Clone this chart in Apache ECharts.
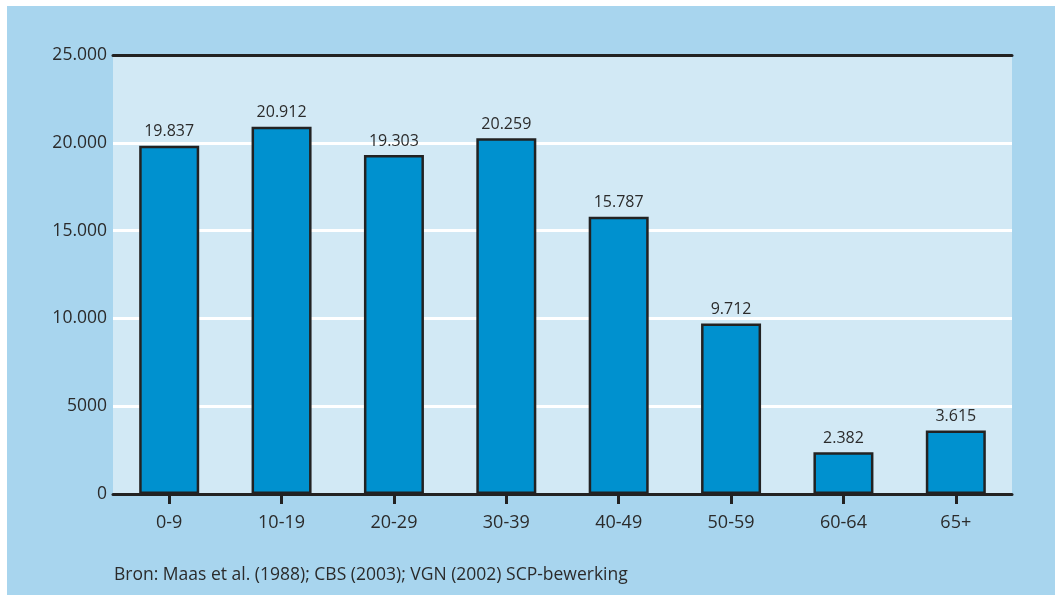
<!DOCTYPE html>
<html>
<head>
<meta charset="utf-8">
<script src="https://cdn.jsdelivr.net/npm/echarts@6/dist/echarts.min.js"></script>
<style>
    html, body { margin: 0; padding: 0; background: #ffffff; }
    #wrap { position: absolute; left: 7px; top: 6px; width: 1048px; height: 589px; background: #a8d5ee; }
    #barChart { position: absolute; left: 0; top: 0; width: 1055px; height: 595px; }
</style>
</head>
<body>
<div id="wrap"></div>
<div id="barChart"></div>
<script>
// leeftijdsgroepen en aantallen
var categories = ['0-9', '10-19', '20-29', '30-39', '40-49', '50-59', '60-64', '65+'];
var values = [19837, 20912, 19303, 20259, 15787, 9712, 2382, 3615];
var yTicks = [0, 5000, 10000, 15000, 20000, 25000];
var yTickLabels = ['0', '5000', '10.000', '15.000', '20.000', '25.000'];
var sourceText = 'Bron: Maas et al. (1988); CBS (2003); VGN (2002) SCP-bewerking';

var chart, option;

function formatNl(v) {
    var s = String(v);
    if (s.length > 3) {
        s = s.slice(0, s.length - 3) + '.' + s.slice(s.length - 3);
    }
    return s;
}

function initChart() {
    chart = echarts.init(document.getElementById('barChart'));
    var fontFamily = '"Open Sans", sans-serif';
    option = {
        animation: false,
        backgroundColor: 'transparent',
        textStyle: { fontFamily: fontFamily },
        grid: {
            left: 113,
            right: 43,
            top: 55,
            bottom: 101,
            show: true,
            backgroundColor: '#d2e9f5',
            borderWidth: 0
        },
        graphic: [{
            type: 'text',
            left: 114,
            top: 566,
            style: {
                text: sourceText,
                font: '17.5px ' + fontFamily,
                fill: '#2b2b2b'
            }
        }],
        xAxis: [{
            type: 'category',
            data: categories,
            position: 'bottom',
            z: 5,
            axisLine: { show: true, lineStyle: { color: '#222222', width: 3 } },
            axisTick: {
                show: true,
                inside: false,
                interval: 0,
                alignWithLabel: true,
                length: 10,
                lineStyle: { color: '#222222', width: 3 }
            },
            axisLabel: {
                color: '#2b2b2b',
                fontSize: 18,
                margin: 20
            },
            splitLine: { show: false }
        }, {
            type: 'category',
            data: categories,
            position: 'top',
            axisLine: { show: true, lineStyle: { color: '#222222', width: 3 } },
            axisTick: { show: false },
            axisLabel: { show: false }
        }],
        yAxis: {
            type: 'value',
            min: 0,
            max: 25000,
            interval: 5000,
            axisLine: { show: false },
            axisTick: { show: false },
            axisLabel: {
                color: '#2b2b2b',
                fontSize: 17.5,
                margin: 6,
                formatter: function (v) {
                    var i = yTicks.indexOf(v);
                    return i >= 0 ? yTickLabels[i] : '';
                }
            },
            splitLine: { lineStyle: { color: '#ffffff', width: 3 } }
        },
        series: [{
            type: 'bar',
            data: values,
            barWidth: 60,
            itemStyle: {
                color: '#0091cf',
                borderColor: '#222222',
                borderWidth: 2.5
            },
            label: {
                show: true,
                position: 'top',
                distance: 6,
                color: '#2b2b2b',
                fontSize: 16,
                formatter: function (p) {
                    return formatNl(p.value);
                }
            }
        }]
    };
    chart.setOption(option);
}

initChart();
</script>
</body>
</html>
